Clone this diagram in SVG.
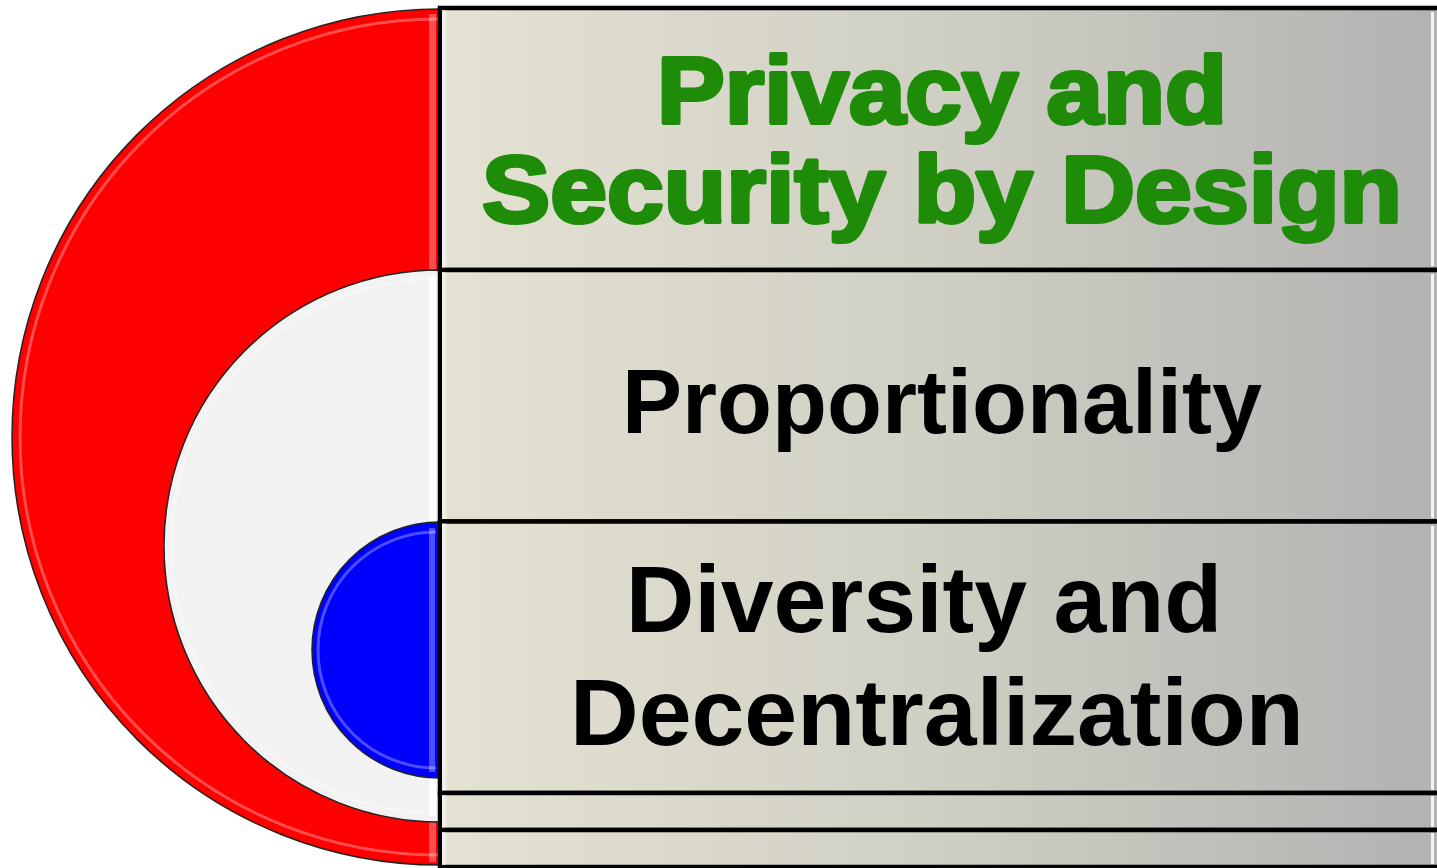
<svg xmlns="http://www.w3.org/2000/svg" width="1437" height="868" viewBox="0 0 1437 868">
  <defs>
    <linearGradient id="boxGrad" gradientUnits="userSpaceOnUse" x1="440" y1="0" x2="1437" y2="0">
      <stop offset="0" stop-color="#e4e2d2"/>
      <stop offset="0.5" stop-color="#d0cfc4"/>
      <stop offset="1" stop-color="#b2b2b2"/>
    </linearGradient>
    <linearGradient id="leftHi" x1="0" y1="0" x2="1" y2="0">
      <stop offset="0" stop-color="#ffffff" stop-opacity="0.85"/>
      <stop offset="1" stop-color="#ffffff" stop-opacity="0"/>
    </linearGradient>
  </defs>
  <style>
    .box { fill: url(#boxGrad); stroke: #000; stroke-width: 4.5; }
    .hiL { fill: url(#leftHi); }
    .hiR { fill: #ffffff; opacity: 0.85; }
    .rim { stroke: #222; stroke-width: 1.5; }
    .gloss { fill: none; stroke: #ffffff; stroke-width: 3; stroke-opacity: 0.3; }
    .edge { fill: #ffffff; opacity: 0.3; }
    .t { font-family: "Liberation Sans", Arial, sans-serif; font-weight: bold; text-anchor: middle; }
    .green { fill: #1e8c08; stroke: #1e8c08; stroke-width: 4; stroke-linejoin: round; font-size: 95px; }
    .black { fill: #000; }
  </style>

  <g id="ring-red">
    <path class="rim" d="M440,9 A428,428 0 0 0 440,865 Z" fill="#ff0000"/>
    <path class="gloss" d="M438,19 A418,418 0 0 0 438,855"/>
    <rect class="edge" x="429" y="14" width="7" height="848"/>
  </g>

  <g id="ring-white">
    <path class="rim" d="M440,270 A276,276 0 0 0 440,822 Z" fill="#f2f2f2"/>
    <path class="gloss" d="M438,279 A267,267 0 0 0 438,813" stroke="#ffffff" stroke-opacity="0.9"/>
    <rect x="429" y="276" width="7" height="540" fill="#ffffff" opacity="0.9"/>
  </g>

  <g id="ring-blue">
    <path class="rim" d="M440,522 A128,128 0 0 0 440,778 Z" fill="#0000ff"/>
    <path class="gloss" d="M436,532 A118,118 0 0 0 436,768" stroke-opacity="0.45"/>
    <rect class="edge" x="429" y="528" width="6" height="244"/>
  </g>

  <g id="box-privacy">
    <rect class="box" x="440" y="8" width="1010" height="262"/>
    <rect class="hiL" x="442" y="10" width="6" height="258"/>
    <rect class="hiR" x="1431" y="12" width="3" height="254"/>
    <text class="t green" x="942" y="123" textLength="570" lengthAdjust="spacingAndGlyphs">Privacy and</text>
    <text class="t green" x="942" y="222" textLength="920" lengthAdjust="spacingAndGlyphs">Security by Design</text>
  </g>

  <g id="box-proportionality">
    <rect class="box" x="440" y="270" width="1010" height="251.5"/>
    <rect class="hiL" x="442" y="272" width="6" height="247"/>
    <rect class="hiR" x="1431" y="274" width="3" height="244"/>
    <text class="t black" x="942" y="433" font-size="90">Proportionality</text>
  </g>

  <g id="box-diversity">
    <rect class="box" x="440" y="521.5" width="1010" height="271.5"/>
    <rect class="hiL" x="442" y="523.5" width="6" height="267"/>
    <rect class="hiR" x="1431" y="526" width="3" height="264"/>
    <text class="t black" x="924" y="632" font-size="95">Diversity and</text>
    <text class="t black" x="937" y="745" font-size="95">Decentralization</text>
  </g>

  <g id="box-blank-1">
    <rect class="box" x="440" y="793" width="1010" height="37"/>
    <rect class="hiL" x="442" y="795" width="6" height="33"/>
    <rect class="hiR" x="1431" y="796" width="3" height="31"/>
  </g>

  <g id="box-blank-2">
    <rect class="box" x="440" y="830" width="1010" height="37"/>
    <rect class="hiL" x="442" y="832" width="6" height="33"/>
    <rect class="hiR" x="1431" y="833" width="3" height="31"/>
  </g>

  <g id="connectors"/>
</svg>
